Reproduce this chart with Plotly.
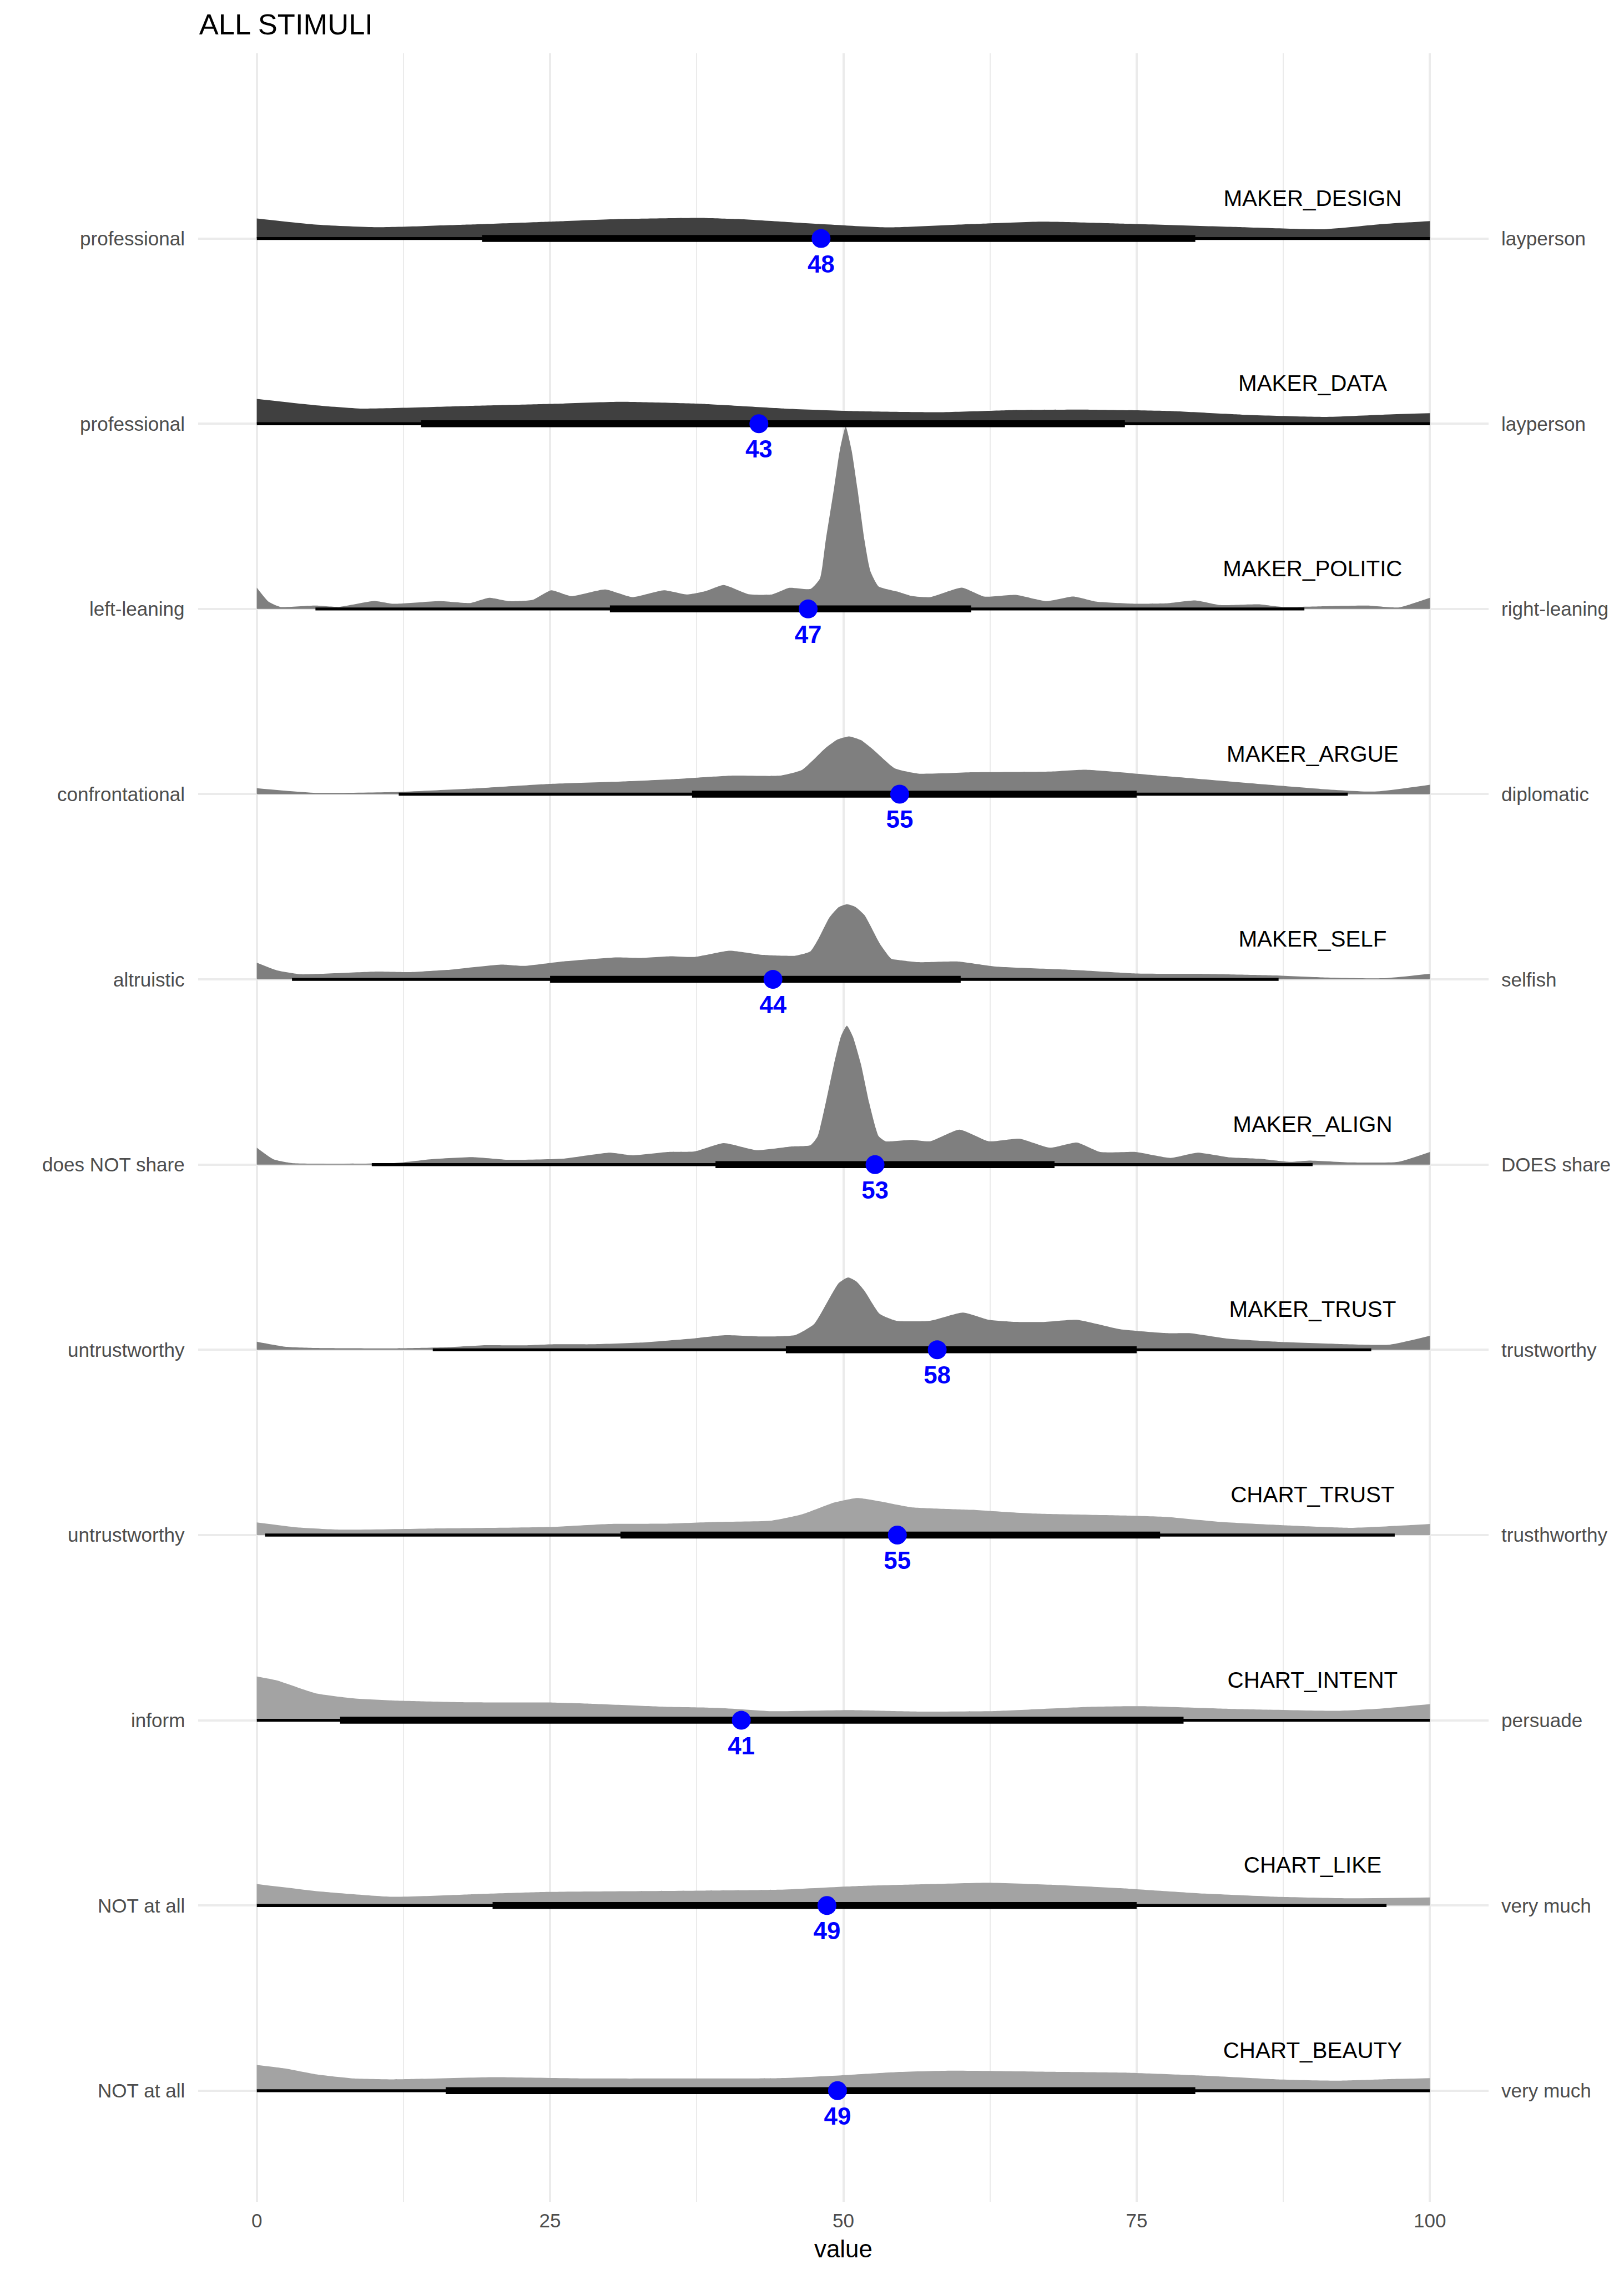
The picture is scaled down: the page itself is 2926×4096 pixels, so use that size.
import plotly.graph_objects as go

# ---------------- data ----------------
CATEGORIES = ["MAKER_DESIGN", "MAKER_DATA", "MAKER_POLITIC", "MAKER_ARGUE", "MAKER_SELF",
              "MAKER_ALIGN", "MAKER_TRUST", "CHART_TRUST", "CHART_INTENT", "CHART_LIKE", "CHART_BEAUTY"]
LEFT_LABELS = ["professional", "professional", "left-leaning", "confrontational", "altruistic",
               "does NOT share", "untrustworthy", "untrustworthy", "inform", "NOT at all", "NOT at all"]
RIGHT_LABELS = ["layperson", "layperson", "right-leaning", "diplomatic", "selfish",
                "DOES share", "trustworthy", "trusthworthy", "persuade", "very much", "very much"]

# ridge (density) profiles: x positions and ridge heights (in row units)
DESIGN_X = [0, 5, 10, 18, 25, 31, 38, 41, 48, 54, 61, 67, 74, 84, 91, 96, 100]
DESIGN_H = [.108, .075, .061, .075, .091, .105, .111, .105, .078, .060, .078, .091, .080, .061, .050, .078, .094]

DATA_X = [0, 5, 9, 18, 25, 31, 38, 45, 51, 58, 64, 71, 78, 84, 91, 96, 100]
DATA_H = [.134, .100, .082, .096, .107, .118, .107, .082, .068, .062, .073, .076, .068, .049, .037, .049, .057]

POLITIC_X = [0, 1, 2, 5, 7, 10, 11.6, 15.6, 18.2, 19.8, 21.5, 23.5, 25.1, 26.8, 29.7, 32, 34.7, 36.7, 38.3, 39.8,
             41.9, 43.9, 45.4, 47.2, 48, 48.5, 49.2, 49.7, 50.2, 50.7, 51.2, 51.8, 52.3, 53, 54.6, 55.9, 57.4,
             60.1, 62, 64.7, 67.3, 69.6, 71.6, 74.9, 77.5, 80, 82.1, 85.4, 87.4, 90.7, 94.7, 97.3, 100]
POLITIC_H = [.115, .039, .011, .018, .011, .043, .028, .042, .032, .060, .042, .049, .101, .069, .105, .064, .101,
             .078, .097, .129, .080, .078, .114, .108, .164, .371, .649, .857, .984, .857, .649, .371, .205, .122,
             .094, .069, .064, .115, .067, .076, .042, .067, .039, .028, .030, .046, .021, .025, .011, .014, .018,
             .008, .060]

ARGUE_X = [0, 5, 11.6, 18.2, 24.8, 31.4, 35.3, 40.6, 44.6, 46.5, 48.5, 49.5, 50.5, 51.5, 52.5, 54.4, 56.4, 61,
           67.6, 70.6, 77.5, 84.1, 90.7, 95.3, 100]
ARGUE_H = [.032, .007, .011, .030, .055, .069, .080, .100, .100, .132, .250, .295, .312, .292, .243, .139, .111,
           .118, .122, .132, .097, .062, .028, .014, .051]

SELF_X = [0, 1.7, 3.7, 10.3, 12.9, 16.2, 20.8, 22.8, 26.1, 30.7, 32.7, 35.3, 37.3, 40.3, 43.2, 45.9, 47.2, 47.9,
          48.8, 49.6, 50.3, 51.0, 51.8, 53.1, 54.1, 54.8, 56.4, 59.7, 63, 69.6, 74.9, 80.2, 86.8, 90.7, 96, 100]
SELF_H = [.090, .049, .028, .042, .039, .051, .080, .073, .097, .119, .116, .125, .121, .155, .132, .128, .152,
          .222, .333, .390, .406, .392, .347, .194, .111, .104, .093, .097, .069, .051, .032, .030, .021, .011,
          .006, .030]

ALIGN_X = [0, 1.4, 3, 11.6, 14.9, 18.5, 21.5, 26.1, 30.1, 32, 35, 37.3, 39.8, 42.6, 45.6, 47.2, 47.8, 48.5, 49.2,
           49.8, 50.3, 50.8, 51.5, 52.2, 53, 53.6, 55.8, 57.4, 59.9, 62.4, 65, 67.6, 69.9, 71.9, 74.9, 77.9, 80.2,
           82.8, 85.4, 88.1, 89.7, 93.3, 97.3, 100]
ALIGN_H = [.091, .029, .008, .008, .029, .040, .026, .032, .064, .050, .068, .071, .116, .078, .098, .105, .152,
           .334, .542, .693, .750, .693, .542, .334, .154, .126, .133, .126, .189, .126, .140, .091, .119, .068,
           .068, .036, .064, .040, .032, .015, .022, .012, .015, .068]

MTRUST_X = [0, 2.4, 5, 11.6, 16.2, 19.5, 22.8, 25.4, 28.7, 32.7, 37.3, 39.9, 43.2, 45.9, 47.5, 48.8, 49.6, 50.4,
            51.1, 51.8, 53.1, 54.5, 57.4, 60.2, 62.4, 64.3, 67, 69.9, 73.6, 77.5, 79.5, 82.8, 87.4, 92, 96.6, 100]
MTRUST_H = [.044, .017, .010, .008, .014, .025, .024, .030, .030, .039, .062, .079, .072, .080, .139, .277, .360,
            .391, .370, .319, .194, .157, .157, .201, .162, .152, .150, .162, .111, .090, .090, .060, .042, .032,
            .028, .076]

CTRUST_X = [0, 3.7, 7, 14.9, 24.8, 30.1, 34.7, 39.3, 43.9, 46.5, 49.2, 51.2, 53.1, 55.8, 61, 66.3, 74.2, 77.5,
            82.1, 87.4, 93.3, 97.3, 100]
CTRUST_H = [.068, .040, .029, .035, .043, .060, .061, .071, .078, .112, .175, .200, .182, .150, .136, .116, .105,
            .098, .071, .053, .039, .050, .060]

INTENT_X = [0, 1.7, 5, 8.3, 11.6, 18.2, 24.8, 28.1, 34.7, 39.3, 43.9, 50.5, 56.4, 63, 70.9, 75.5, 82.8, 92, 95.3, 100]
INTENT_H = [.236, .215, .146, .118, .107, .097, .096, .090, .073, .067, .049, .055, .047, .050, .072, .076, .062,
            .051, .061, .087]

LIKE_X = [0, 5, 11.6, 18.2, 24.8, 38, 44.6, 51.2, 57.7, 62.4, 67.6, 74.2, 80.8, 87.4, 92.7, 100]
LIKE_H = [.116, .078, .047, .060, .073, .080, .085, .105, .116, .123, .112, .091, .064, .046, .039, .043]

BEAUTY_X = [0, 2.4, 5, 8.3, 11.6, 20.2, 28.1, 38, 44.6, 49.8, 54.4, 59.1, 67.6, 74.2, 80.8, 87.4, 92, 97.3, 100]
BEAUTY_H = [.139, .120, .089, .066, .061, .073, .066, .066, .068, .083, .100, .108, .102, .097, .081, .060, .054,
            .064, .068]

RIDGE_X = [DESIGN_X, DATA_X, POLITIC_X, ARGUE_X, SELF_X, ALIGN_X, MTRUST_X, CTRUST_X, INTENT_X, LIKE_X, BEAUTY_X]
RIDGE_H = [DESIGN_H, DATA_H, POLITIC_H, ARGUE_H, SELF_H, ALIGN_H, MTRUST_H, CTRUST_H, INTENT_H, LIKE_H, BEAUTY_H]

# intervals: outer (thin) and inner (thick), and median points
OUTER_LO = [0, 0, 5, 12.1, 3, 9.8, 15, 0.7, 0, 0, 0]
OUTER_HI = [100, 100, 89.3, 93, 87.1, 90, 95, 97, 100, 96.3, 100]
INNER_LO = [19.2, 14, 30.1, 37.1, 25, 39.1, 45.1, 31, 7.1, 20.1, 16.1]
INNER_HI = [80, 74, 60.9, 75, 60, 68, 75, 77, 79, 75, 80]
MEDIAN = [48.1, 42.8, 47, 54.8, 44, 52.7, 58, 54.6, 41.3, 48.6, 49.5]
MEDIAN_LABEL = ["48", "43", "47", "55", "44", "53", "58", "55", "41", "49", "49"]

GROUP_COLOR = ["#404040", "#404040", "#7F7F7F", "#7F7F7F", "#7F7F7F", "#7F7F7F", "#7F7F7F",
               "#A3A3A3", "#A3A3A3", "#A3A3A3", "#A3A3A3"]

TICKS = [0, 25, 50, 75, 100]
MINOR_TICKS = [12.5, 37.5, 62.5, 87.5]

# ---------------- figure ----------------
FONT = "Liberation Sans, Arial, Helvetica, sans-serif"
n = len(CATEGORIES)
pos = [n - i for i in range(n)]  # top row = 11, bottom row = 1

fig = go.Figure()

# ridges
for i in range(n):
    p = pos[i]
    xs = RIDGE_X[i]
    fig.add_trace(go.Scatter(x=[xs[0], xs[-1]], y=[p, p], mode="lines", line=dict(width=0),
                             hoverinfo="skip", showlegend=False))
    fig.add_trace(go.Scatter(x=xs, y=[p + h for h in RIDGE_H[i]], mode="lines",
                             line=dict(width=0, shape="spline", smoothing=0.5),
                             fill="tonexty", fillcolor=GROUP_COLOR[i],
                             name=CATEGORIES[i], showlegend=False))

# thin (outer) intervals
tx, ty = [], []
for i in range(n):
    tx += [OUTER_LO[i], OUTER_HI[i], None]
    ty += [pos[i], pos[i], None]
fig.add_trace(go.Scatter(x=tx, y=ty, mode="lines", line=dict(color="black", width=5.4),
                         showlegend=False, hoverinfo="skip"))

# thick (inner) intervals
kx, ky = [], []
for i in range(n):
    kx += [INNER_LO[i], INNER_HI[i], None]
    ky += [pos[i], pos[i], None]
fig.add_trace(go.Scatter(x=kx, y=ky, mode="lines", line=dict(color="black", width=12.5),
                         showlegend=False, hoverinfo="skip"))

# median points
fig.add_trace(go.Scatter(x=MEDIAN, y=pos, mode="markers",
                         marker=dict(color="#0000FF", size=34, line=dict(width=0)),
                         showlegend=False))

# median labels
fig.add_trace(go.Scatter(x=MEDIAN, y=[p - 0.15 for p in pos], mode="text",
                         text=["<b>%s</b>" % t for t in MEDIAN_LABEL], textposition="middle center",
                         textfont=dict(family=FONT, size=43.9, color="#0000FF"),
                         showlegend=False, hoverinfo="skip"))

# ridge names
fig.add_trace(go.Scatter(x=[90] * n, y=[p + 0.207 for p in pos], mode="text",
                         text=CATEGORIES, textposition="middle center",
                         textfont=dict(family=FONT, size=40.4, color="black"),
                         showlegend=False, hoverinfo="skip"))

annotations = []
for i in range(n):
    annotations.append(dict(xref="paper", x=0, yref="y", y=pos[i], text=LEFT_LABELS[i],
                            xanchor="right", yanchor="middle", xshift=-22.5, showarrow=False,
                            font=dict(family=FONT, size=35.1, color="#4D4D4D")))
    annotations.append(dict(xref="paper", x=1, yref="y", y=pos[i], text=RIGHT_LABELS[i],
                            xanchor="left", yanchor="middle", xshift=20.5, showarrow=False,
                            font=dict(family=FONT, size=35.1, color="#4D4D4D")))
annotations.append(dict(xref="paper", x=0.5, yref="paper", y=0, yshift=-84.7, text="value",
                        xanchor="center", yanchor="middle", showarrow=False,
                        font=dict(family=FONT, size=43.9, color="black")))

fig.update_layout(
    width=2926, height=4096,
    margin=dict(l=357, r=244, t=96, b=130, autoexpand=False),
    paper_bgcolor="white", plot_bgcolor="white",
    title=dict(text="ALL STIMULI", x=358.8 / 2926, xanchor="left", xref="container",
               y=1 - 43.4 / 4096, yanchor="middle", yref="container",
               font=dict(family=FONT, size=52.5, color="black")),
    xaxis=dict(range=[-5, 105], tickvals=TICKS, ticktext=[str(t) for t in TICKS],
               showgrid=True, gridcolor="#EBEBEB", gridwidth=4, zeroline=False, showline=False,
               ticks="", ticklabelstandoff=10,
               tickfont=dict(family=FONT, size=35.1, color="#4D4D4D"),
               minor=dict(tickvals=MINOR_TICKS, showgrid=True, gridcolor="#EBEBEB", gridwidth=2, ticks="")),
    yaxis=dict(range=[0.4, 12.0], tickvals=pos, showticklabels=False, showgrid=True,
               gridcolor="#EBEBEB", gridwidth=4, zeroline=False, showline=False, ticks=""),
    annotations=annotations,
    showlegend=False,
)

fig.write_html("out.html")
